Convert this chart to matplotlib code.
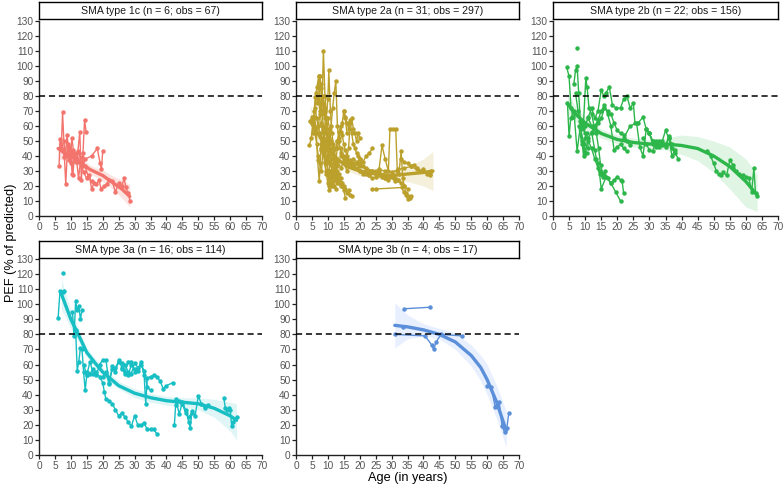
import matplotlib
matplotlib.use("Agg")
import matplotlib.pyplot as plt
import numpy as np

plt.rcParams['font.family'] = ['Liberation Sans', 'DejaVu Sans']

# ---------------- data ----------------
titles = ["SMA type 1c (n = 6; obs = 67)", "SMA type 2a (n = 31; obs = 297)",
          "SMA type 2b (n = 22; obs = 156)", "SMA type 3a (n = 16; obs = 114)",
          "SMA type 3b (n = 4; obs = 17)"]
colors = ["#F3736D", "#BBA02C", "#2DB64A", "#17BEC3", "#5C8FD9"]
ribbon_colors = ["#FBD3D0", "#EDE6C6", "#CDEFD5", "#CCF0F1", "#D9E6FF"]

x_ticks = list(range(0, 75, 5))
y_ticks = list(range(0, 140, 10))
threshold = 80

# SMA type 1c trajectories (age, PEF)
t1c = [
    ([6.3, 6.6, 7.0, 7.4, 7.8, 8.3, 8.8, 9.3, 9.8, 10.3, 10.8, 11.3],
     [33, 51, 46, 69, 50, 40, 54, 45, 37, 52, 44, 40]),
    ([6.8, 7.5, 8.0, 8.4, 9.0, 9.6, 10.1, 10.6, 11.2, 11.8, 12.4, 13.0],
     [48, 44, 39, 21, 48, 43, 35, 27, 42, 38, 25, 36]),
    ([9.0, 9.5, 10.0, 10.5, 11.0, 11.6, 12.2, 12.8, 13.3, 13.8, 14.3, 14.8],
     [41, 37, 43, 28, 40, 36, 43, 56, 24, 42, 64, 56]),
    ([11.5, 12.5, 13.5, 14.5, 16.5, 18.3, 19.2, 19.6, 20.0],
     [39, 42, 33, 38, 40, 45, 35, 31, 43]),
    ([13.2, 14.0, 15.0, 15.8, 16.5, 17.3, 18.0, 18.8, 19.5, 20.3, 21.2, 22.0,
      23.0, 24.0, 25.0, 26.0, 26.7, 27.3, 28.0, 28.6],
     [35, 29, 25, 27, 18, 22, 21, 24, 18, 20, 21, 24, 23, 16, 22, 20, 25, 19, 15, 10]),
    ([7.5, 8.5, 9.5, 10.5, 11.5, 12.5, 13.5, 14.5, 15.5, 16.5],
     [44, 41, 46, 42, 38, 36, 39, 33, 26, 23]),
]
fit1c_x = [6, 8, 10, 12, 14, 16, 18, 20, 22, 24, 26, 28.5]
fit1c_y = [45, 42, 40, 37, 34, 31, 29, 27, 24, 21, 18, 13]
fit1c_lo = [38, 37, 36, 34, 31, 28, 26, 23, 20, 16, 12, 6]
fit1c_hi = [52, 47, 44, 40, 37, 34, 32, 31, 28, 26, 24, 21]

# SMA type 2a trajectories
t2a = [
    ([4.2, 4.8, 5.3, 5.8, 6.3, 6.8, 7.3, 7.8, 8.3, 8.8, 9.3],
     [47, 52, 62, 66, 58, 37, 23, 44, 60, 52, 38]),
    ([4.5, 5.0, 5.6, 6.1, 6.6, 7.1, 7.6, 8.1, 8.6, 9.1, 9.6, 10.1, 10.6],
     [63, 66, 58, 79, 86, 93, 75, 68, 110, 80, 65, 45, 30]),
    ([5.2, 5.7, 6.2, 6.7, 7.2, 7.7, 8.2, 8.7, 9.2, 9.7, 10.2, 10.7, 11.2, 11.7],
     [55, 70, 82, 75, 93, 88, 70, 55, 40, 35, 30, 25, 22, 20]),
    ([6.0, 6.5, 7.0, 7.5, 8.0, 8.5, 9.0, 9.5, 10.0, 10.5, 11.0, 11.5, 12.0, 12.5],
     [72, 65, 60, 55, 48, 42, 36, 30, 28, 25, 30, 23, 20, 18]),
    ([7.0, 7.5, 8.0, 8.5, 9.0, 9.5, 10.0, 10.3, 10.8, 11.3, 11.8, 12.3, 12.8],
     [60, 68, 75, 80, 72, 65, 78, 97, 70, 55, 45, 38, 33]),
    ([8.0, 8.5, 9.0, 9.5, 10.0, 10.5, 11.0, 11.5, 12.0, 12.5, 13.0, 13.5, 14.0],
     [45, 52, 60, 55, 48, 52, 60, 72, 82, 90, 60, 50, 42]),
    ([9.0, 9.5, 10.0, 10.5, 11.0, 11.5, 12.0, 12.5, 13.0, 13.5, 14.0, 14.5, 15.0, 15.5, 16.0],
     [35, 28, 22, 17, 20, 28, 32, 38, 45, 52, 56, 62, 70, 65, 55]),
    ([10.0, 10.5, 11.0, 11.5, 12.0, 12.5, 13.0, 13.5, 14.0, 14.5, 15.0, 15.5, 16.0, 16.5, 17.0, 17.5],
     [65, 58, 50, 45, 40, 35, 30, 28, 25, 22, 20, 18, 15, 17, 14, 13]),
    ([11.0, 11.5, 12.0, 12.5, 13.0, 13.5, 14.0, 14.5, 15.0, 15.5, 16.0, 16.5, 17.0, 17.5,
      18.0, 18.5, 19.0, 19.5, 20.0],
     [42, 48, 40, 45, 50, 56, 60, 54, 48, 44, 40, 45, 62, 65, 58, 55, 50, 55, 52]),
    ([12, 13, 14, 15, 16, 17, 18, 19, 20, 21, 22, 23, 24],
     [35, 38, 32, 36, 30, 34, 33, 35, 38, 36, 40, 42, 45]),
    ([13, 14, 15, 16, 17, 18, 19, 20, 21, 22, 23, 24, 25, 26, 27, 28, 29, 30, 31, 32, 33, 34, 35],
     [50, 45, 40, 38, 36, 34, 32, 30, 29, 28, 27, 30, 29, 28, 27, 26, 25, 27, 25, 24, 22, 20, 18]),
    ([14, 15, 16, 17, 18, 20, 22, 24, 26, 28, 30, 32, 34, 36, 38, 40, 42, 42.5],
     [40, 38, 36, 34, 35, 33, 32, 30, 31, 30, 29, 31, 32, 33, 31, 30, 28, 30]),
    ([26, 27, 28, 29, 29.5, 30.5, 31.3, 31.8, 32.3, 33, 33.5, 34, 34.5, 35, 35.5, 36],
     [30, 47, 38, 30, 58, 58, 58, 30, 28, 43, 25, 20, 15, 13, 12, 13]),
    ([23.8, 25, 33.2, 33.8, 34.5, 35.2, 35.8],
     [18, 18, 19, 16, 14, 11, 12]),
    ([16, 17, 18, 19, 20, 21, 22, 23, 24, 25, 26, 27, 28],
     [35, 37, 38, 36, 35, 33, 31, 30, 29, 28, 27, 26, 25]),
    ([33, 34, 35, 36, 37, 38, 39, 40, 41, 42],
     [38, 36, 35, 33, 34, 32, 30, 31, 28, 27]),
    ([5.5, 6, 6.5, 7, 7.5, 8, 8.5, 9, 9.5, 10, 10.5, 11, 11.5, 12],
     [65, 55, 48, 40, 35, 30, 45, 50, 38, 28, 20, 25, 30, 26]),
    ([6.5, 7, 7.5, 8, 8.5, 9, 9.5, 10, 10.5, 11, 11.5, 12, 12.5, 13, 13.5, 14],
     [80, 78, 70, 62, 58, 50, 44, 40, 36, 34, 30, 28, 26, 24, 22, 20]),
    ([7.5, 8, 8.5, 9, 9.5, 10, 10.5, 11, 11.5, 12, 12.5, 13, 13.5],
     [93, 85, 75, 65, 58, 50, 45, 38, 32, 28, 24, 22, 25]),
    ([9, 9.5, 10, 10.5, 11, 11.5, 12, 12.5, 13, 13.5, 14, 14.5, 15, 15.5],
     [70, 62, 55, 48, 42, 38, 35, 30, 28, 25, 22, 20, 17, 12]),
    ([15, 15.5, 16, 16.5, 17, 17.5, 18, 18.5, 19, 19.5, 20],
     [70, 66, 62, 58, 64, 55, 48, 45, 42, 40, 38]),
    ([20, 21, 22, 23, 24, 25, 26, 27, 28, 29, 30, 31, 32],
     [30, 28, 29, 27, 25, 26, 28, 27, 25, 24, 26, 23, 24]),
]
fit2a_x = [4.5, 6, 8, 10, 13, 16, 20, 25, 30, 35, 40, 43]
fit2a_y = [63, 58, 51, 45, 38, 33, 30, 28, 27, 28, 29, 30]
fit2a_lo = [53, 52, 47, 42, 35, 30, 27, 25, 24, 23, 20, 17]
fit2a_hi = [74, 65, 55, 48, 41, 36, 33, 31, 31, 33, 38, 43]

# SMA type 2b trajectories
t2b = [
    ([4.3, 5.0, 5.6, 6.2], [99, 93, 72, 66]),
    ([4.5, 5.0, 5.5, 6.5, 7.5, 8.5, 9.5, 10.5], [75, 53, 65, 70, 43, 60, 48, 42]),
    ([6.5, 7.0, 7.5, 8.0, 8.5, 9.0, 9.5, 10.0, 10.5, 11.0], [88, 97, 100, 82, 63, 50, 40, 52, 55, 45]),
    ([7.6], [112]),
    ([7.0, 7.8, 8.6, 9.4, 10.2, 10.6, 11.2, 12.0, 12.8, 13.5, 14.2, 14.8, 15.5, 16.2],
     [82, 70, 62, 58, 92, 86, 72, 68, 60, 55, 45, 34, 28, 30]),
    ([8, 9, 10, 11, 12, 13, 13.5, 14, 14.5, 15, 15.5, 16, 17, 18, 19, 20, 21, 21.5, 22],
     [60, 48, 42, 52, 56, 44, 38, 35, 30, 28, 26, 27, 25, 22, 24, 26, 24, 23, 15]),
    ([9, 10, 11, 12, 13, 14, 14.5, 15, 16.5, 18, 19.5, 21],
     [62, 55, 50, 45, 38, 32, 28, 18, 26, 22, 16, 10]),
    ([10, 11, 12, 13, 14, 15, 15.8, 16.5, 17.5, 18.5, 19.5, 21, 22, 23, 24, 25, 25.5,
      26.5, 28, 29, 30, 31],
     [60, 66, 72, 65, 70, 84, 80, 82, 86, 74, 72, 72, 78, 80, 72, 75, 62, 62, 66, 58, 55, 50]),
    ([11, 12, 13, 14, 15, 16, 17, 18, 19, 20, 21, 22, 23, 24],
     [65, 60, 58, 62, 65, 72, 70, 68, 62, 57, 55, 54, 50, 47]),
    ([12, 13, 14, 15, 16, 17, 18, 19, 20, 21, 22, 23],
     [55, 60, 64, 70, 74, 68, 60, 44, 46, 48, 45, 43]),
    ([22, 24, 26, 27, 28, 29, 30, 31, 32, 33, 34, 35, 36, 37, 38, 39],
     [52, 60, 62, 46, 40, 58, 55, 50, 48, 46, 50, 57, 52, 45, 42, 38]),
    ([28, 29, 30, 31, 32, 33, 34, 35, 36, 37], [52, 48, 44, 43, 50, 47, 48, 47, 52, 48]),
    ([30, 31, 32, 33, 34, 35, 36, 37, 38], [55, 48, 46, 50, 47, 46, 53, 40, 44]),
    ([48, 49, 50, 50.8, 51.5, 52.2, 53, 54, 55, 56], [43, 40, 35, 30, 28, 27, 29, 27, 37, 34]),
    ([56, 57, 58, 59, 60, 61, 61.8, 62.5, 63, 63.6], [32, 30, 28, 27, 26, 25, 16, 32, 15, 13]),
]
fit2b_x = [4.5, 7, 10, 15, 20, 25, 30, 35, 40, 45, 50, 55, 60, 63.5]
fit2b_y = [75, 68, 62, 55, 51, 49, 48, 48, 47, 45, 40, 33, 23, 14]
fit2b_lo = [68, 63, 58, 52, 48, 46, 45, 44, 41, 37, 29, 18, 6, 3]
fit2b_hi = [82, 73, 66, 58, 54, 52, 51, 52, 54, 53, 50, 46, 38, 28]

# SMA type 3a trajectories
t3a = [
    ([6.0, 6.6, 7.6, 8.0], [91, 109, 108, 109]),
    ([7.5], [121]),
    ([10.5, 11.0, 11.5, 12.0, 12.5, 13.0, 13.5], [95, 79, 102, 96, 99, 90, 96]),
    ([11.5, 12.0, 12.5, 13.0, 13.5, 14.0, 14.5, 15.0], [83, 56, 62, 71, 70, 55, 43, 53]),
    ([14, 15, 16, 17, 18, 19, 20, 20.5, 21, 22, 23, 24, 25, 26, 27, 28, 29, 30, 31, 32,
      33, 34, 35, 36, 37],
     [60, 53, 62, 54, 55, 52, 48, 42, 37, 36, 34, 30, 26, 28, 25, 22, 19, 26, 20, 20,
      21, 17, 17, 17, 14]),
    ([15, 16, 17, 18, 19, 20, 21, 22, 23, 24, 25, 26, 27, 28, 29, 30],
     [55, 54, 57, 53, 60, 63, 63, 48, 57, 58, 62, 61, 55, 62, 62, 55]),
    ([20, 21, 22, 23, 24, 25, 26, 27, 28, 29, 30, 31, 32, 33, 33.5, 34, 35, 36, 37, 38, 39, 40, 42],
     [52, 55, 47, 59, 55, 63, 58, 54, 53, 60, 57, 56, 62, 53, 34, 51, 52, 53, 52, 49, 44, 46, 48]),
    ([26, 27, 28, 29, 30, 31, 32, 33, 34, 35], [57, 60, 55, 54, 61, 58, 60, 56, 45, 43]),
    ([42.5, 43, 44, 45, 46, 47, 47.5, 48, 49, 50, 51, 52, 53],
     [20, 37, 27, 35, 30, 22, 18, 29, 26, 39, 34, 31, 33]),
    ([43, 44, 45, 46, 47, 48], [33, 36, 34, 28, 25, 28]),
    ([58, 58.5, 59, 59.5, 60, 60.5, 61, 62], [38, 31, 30, 31, 30, 19, 22, 25]),
]
fit3a_x = [7, 10, 13, 15, 18, 20, 25, 30, 35, 40, 45, 50, 55, 60, 62]
fit3a_y = [107, 90, 77, 68, 60, 55, 46, 41, 38, 36, 35, 34, 31, 26, 23]
fit3a_lo = [97, 84, 73, 65, 57, 52, 44, 38, 35, 33, 32, 30, 25, 16, 10]
fit3a_hi = [117, 96, 81, 71, 63, 58, 49, 44, 41, 39, 38, 38, 37, 35, 34]

# SMA type 3b trajectories
t3b = [
    ([31, 40.5, 42.6, 43.2, 44, 45.5, 52], [80, 79, 73, 70, 75, 80, 79]),
    ([34, 42], [97, 98]),
    ([33.5], [85]),
    ([60, 61.3, 62.5, 63.2, 63.8, 64.7, 65.5, 66.2, 66.8], [46, 45, 32, 33, 35, 19, 15, 18, 28]),
]
fit3b_x = [31, 35, 40, 45, 50, 55, 58, 60, 63, 66]
fit3b_y = [86, 85, 83, 80, 75, 66, 58, 50, 35, 16]
fit3b_lo = [71, 77, 79, 77, 70, 59, 49, 40, 24, 5]
fit3b_hi = [101, 93, 87, 84, 81, 73, 66, 60, 46, 29]

panels = [
    (t1c, fit1c_x, fit1c_y, fit1c_lo, fit1c_hi),
    (t2a, fit2a_x, fit2a_y, fit2a_lo, fit2a_hi),
    (t2b, fit2b_x, fit2b_y, fit2b_lo, fit2b_hi),
    (t3a, fit3a_x, fit3a_y, fit3a_lo, fit3a_hi),
    (t3b, fit3b_x, fit3b_y, fit3b_lo, fit3b_hi),
]

# ---------------- layout ----------------
W, H = 784, 486
fig = plt.figure(figsize=(W / 100, H / 100), dpi=100)

col_x = [(39, 262), (296, 519), (553, 778)]
row_y = [(21, 216), (259, 455)]
strip_y = [(2, 19), (241, 258)]

def fx(px):
    return px / W

def fy(py):
    return 1 - py / H

for i, (traj, fxs, fys, flo, fhi) in enumerate(panels):
    r, c = divmod(i, 3)
    l, rr = col_x[c]
    t, b = row_y[r]
    ax = fig.add_axes([fx(l), fy(b), fx(rr - l), (b - t) / H])
    col = colors[i]
    ax.fill_between(fxs, flo, fhi, color=ribbon_colors[i], alpha=0.6, lw=0, zorder=1)
    for xs, ys in traj:
        ax.plot(xs, ys, color=col, lw=1.0, marker='o', ms=3.2, mew=0, zorder=2)
    ax.plot(fxs, fys, color=col, lw=2.4, zorder=3, solid_capstyle='round')
    ax.axhline(threshold, color='black', lw=1.1, ls=(0, (4, 2.5)), zorder=4)
    ax.set_xlim(0, 70)
    ax.set_ylim(0, 130)
    ax.set_xticks(x_ticks)
    ax.set_yticks(y_ticks)
    for s in ['top', 'right']:
        ax.spines[s].set_visible(False)
    for s in ['left', 'bottom']:
        ax.spines[s].set_linewidth(1.0)
        ax.spines[s].set_color('#222222')
    ax.tick_params(axis='both', direction='out', length=3, width=0.9, color='#222222',
                   labelsize=7.3, labelcolor='#555555', pad=1.0)
    ax.margins(0)
    st, sb = strip_y[r]
    sax = fig.add_axes([fx(l), fy(sb), fx(rr - l), (sb - st) / H])
    sax.set_xticks([])
    sax.set_yticks([])
    for s in sax.spines.values():
        s.set_linewidth(1.0)
        s.set_color('black')
    sax.text(0.5, 0.5, titles[i], ha='center', va='center', fontsize=7.6,
             color='#1a1a1a', transform=sax.transAxes)

fig.text(fx(11), fy(243), "PEF (% of predicted)", rotation=90, ha='center', va='center',
         fontsize=9.2, color='black')
fig.text(fx(408), fy(478), "Age (in years)", ha='center', va='center',
         fontsize=9.2, color='black')

fig.savefig("out.png", dpi=100)
